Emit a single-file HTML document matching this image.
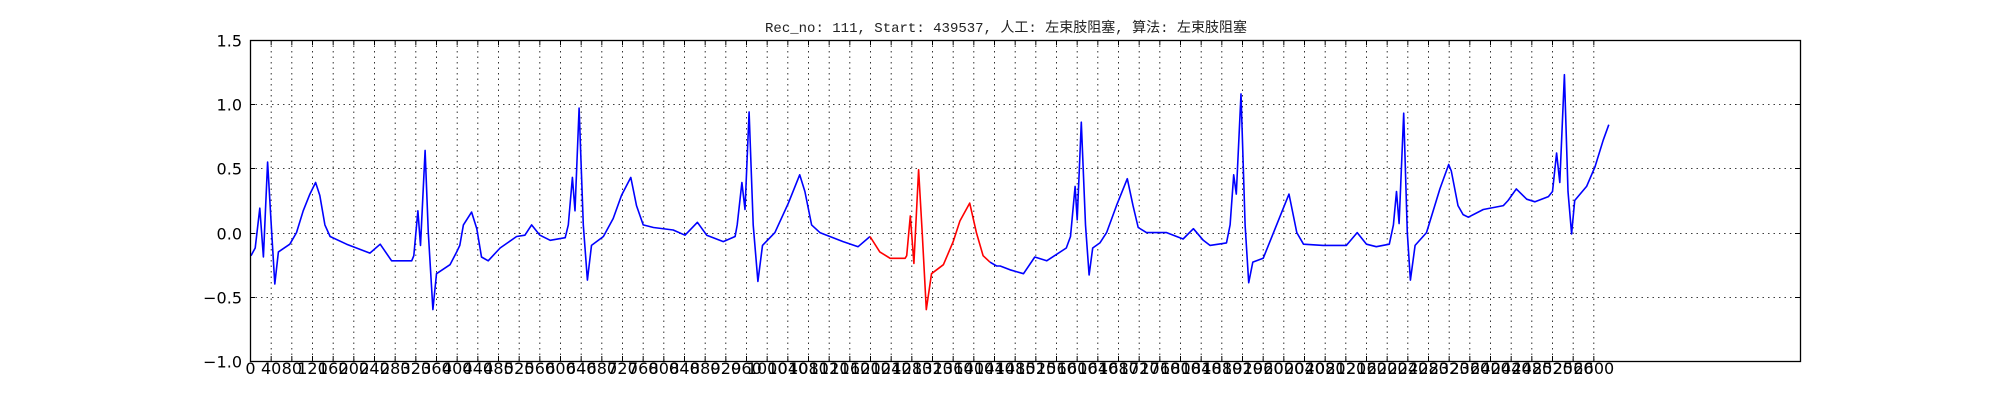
<!DOCTYPE html>
<html><head><meta charset="utf-8"><title>ECG chart</title>
<style>html,body{margin:0;padding:0;background:#fff;}svg{display:block;}</style></head>
<body>
<svg id="chart" width="2000" height="400" xmlns="http://www.w3.org/2000/svg">
<text x="1006" y="32" text-anchor="middle" font-family="'Liberation Mono','Noto Sans CJK SC',monospace" font-size="14" textLength="482" lengthAdjust="spacingAndGlyphs" fill="#222">Rec_no: 111, Start: 439537, 人工: 左束肢阻塞, 算法: 左束肢阻塞</text>
<g id="grid"></g>
<g id="series"></g>
<g id="axes"></g>
</svg>
<script>
const sampleIdx = [2,10,19,26,34,42,48,55,77,90,103,116,127,135,145,155,187,232,252,274,313,317,325,330,339,345,354,361,387,400,406,413,429,439,448,461,484,516,532,545,561,581,610,616,624,629,637,645,653,661,684,703,719,737,748,761,781,819,842,866,884,916,939,943,952,958,966,974,983,992,1016,1042,1064,1074,1087,1103,1148,1177,1200,1219,1239,1268,1271,1278,1285,1294,1301,1309,1319,1342,1361,1374,1393,1406,1419,1432,1445,1452,1471,1497,1519,1542,1580,1588,1597,1601,1609,1617,1624,1631,1645,1658,1677,1698,1709,1719,1735,1774,1806,1826,1845,1858,1890,1897,1904,1909,1918,1926,1933,1941,1961,1987,2011,2026,2039,2077,2122,2143,2161,2180,2205,2213,2219,2224,2233,2240,2246,2255,2277,2303,2320,2325,2338,2348,2358,2387,2426,2435,2451,2471,2487,2513,2521,2529,2535,2544,2551,2558,2564,2587,2603,2619,2630];
const amplitude = [-0.18,-0.12,0.19,-0.19,0.55,0.0,-0.40,-0.15,-0.09,0.0,0.17,0.30,0.39,0.29,0.06,-0.03,-0.09,-0.16,-0.09,-0.22,-0.22,-0.18,0.17,-0.10,0.64,0.0,-0.60,-0.32,-0.25,-0.15,-0.10,0.06,0.16,0.03,-0.19,-0.22,-0.12,-0.03,-0.02,0.06,-0.02,-0.06,-0.04,0.06,0.43,0.17,0.97,0.06,-0.37,-0.10,-0.03,0.11,0.29,0.43,0.21,0.06,0.04,0.02,-0.02,0.08,-0.02,-0.07,-0.03,0.06,0.39,0.18,0.94,0.06,-0.38,-0.10,0.0,0.23,0.45,0.32,0.06,0.0,-0.07,-0.11,-0.03,-0.15,-0.20,-0.20,-0.18,0.13,-0.24,0.49,0.0,-0.60,-0.32,-0.25,-0.07,0.09,0.23,0.0,-0.18,-0.23,-0.26,-0.26,-0.29,-0.32,-0.19,-0.22,-0.12,-0.03,0.36,0.10,0.86,0.06,-0.33,-0.12,-0.08,0.0,0.21,0.42,0.21,0.04,0.0,0.0,-0.05,0.03,-0.06,-0.10,-0.08,0.06,0.45,0.30,1.08,0.06,-0.39,-0.23,-0.20,0.06,0.30,0.0,-0.09,-0.10,-0.10,0.0,-0.09,-0.11,-0.09,0.06,0.32,0.07,0.93,0.0,-0.37,-0.10,0.0,0.34,0.53,0.48,0.21,0.14,0.12,0.18,0.21,0.25,0.34,0.26,0.24,0.28,0.32,0.62,0.39,1.23,0.32,-0.01,0.25,0.36,0.51,0.72,0.84];
const redStart = 1200;
const redEnd = 1432;
const xTicks = [];
for (let t = 0; t <= 2600; t += 40) xTicks.push(t);
const yTicks = [-1.0,-0.5,0.0,0.5,1.0,1.5];
const yTickLabels = ["\u22121.0","\u22120.5","0.0","0.5","1.0","1.5"];

const L=250,R=1800,T=40,B=361, XMAX=3000, YMIN=-1.0, YMAX=1.5;
const sx = v => L + (v/XMAX)*(R-L);
const sy = v => B - (v-YMIN)/(YMAX-YMIN)*(B-T);
const NS='http://www.w3.org/2000/svg';
function mk(tag, attrs, parent){const e=document.createElementNS(NS,tag);for(const k in attrs)e.setAttribute(k,attrs[k]);parent.appendChild(e);return e;}
const grid=document.getElementById('grid'), axes=document.getElementById('axes'), series=document.getElementById('series');

xTicks.forEach(t=>{
  const x=sx(t)+0.5;
  if(t>0){const g=mk('line',{x1:x,x2:x,y1:T,y2:B,stroke:'#000','stroke-width':0.8,'stroke-dasharray':'1.5,4'},grid);
  
  }
  const tk=mk('path',{d:`M${x},${B}v-5M${x},${T}v5`,stroke:'#000','stroke-width':1},axes);
  
  
  const lb=mk('text',{x:x,y:B+13,'text-anchor':'middle','font-family':"'DejaVu Sans','Liberation Sans',sans-serif",'font-size':16},axes);
  lb.textContent=String(t);
  
  
});
yTicks.forEach((v,i)=>{
  const y=Math.round(sy(v))+0.5;
  if(i>0&&i<yTicks.length-1){const g=mk('line',{x1:L,x2:R,y1:y,y2:y,stroke:'#000','stroke-width':0.8,'stroke-dasharray':'1.5,4'},grid);
  
  }
  const tk=mk('path',{d:`M${L},${y}h5M${R},${y}h-5`,stroke:'#000','stroke-width':1},axes);
  
  
  const lb=mk('text',{x:L-8,y:y+6,'text-anchor':'end','font-family':"'DejaVu Sans','Liberation Sans',sans-serif",'font-size':16},axes);
  lb.textContent=yTickLabels[i];
  
  
});
const frame=mk('rect',{x:L+0.5,y:T+0.5,width:R-L,height:B-T,fill:'none',stroke:'#000','stroke-width':1.3},axes);



// build segments
function pathFor(filter){
  let d='';let pen=false;
  for(let i=0;i<sampleIdx.length;i++){
    if(filter(sampleIdx[i])){d+=(pen?'L':'M')+sx(sampleIdx[i]).toFixed(1)+','+sy(amplitude[i]).toFixed(1);pen=true;}
    else pen=false;
  }
  return d;
}
const blue=mk('path',{d:pathFor(s=>s<=redStart||s>=redEnd),fill:'none',stroke:'#0000ff','stroke-width':1.6,'stroke-linejoin':'round'},series);


const red=mk('path',{d:pathFor(s=>s>=redStart&&s<=redEnd),fill:'none',stroke:'#ff0000','stroke-width':1.6,'stroke-linejoin':'round'},series);


</script>
</body></html>
